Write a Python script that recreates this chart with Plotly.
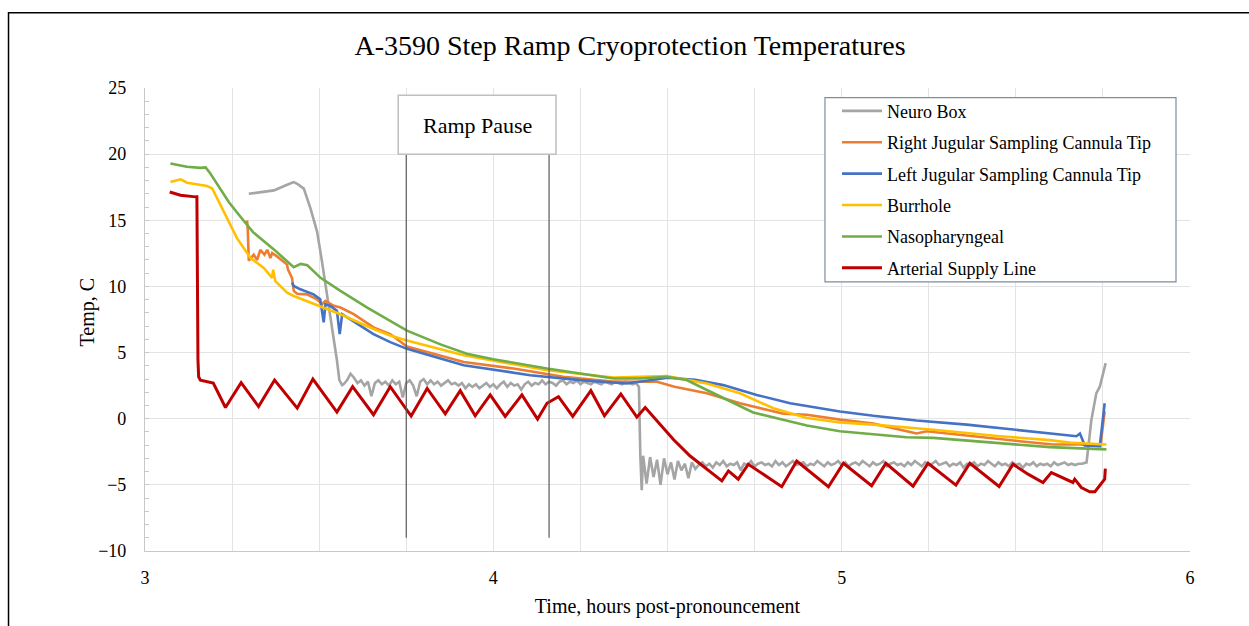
import numpy as np
import plotly.graph_objects as go

# ---------------- data (hours post-pronouncement, temperature C) ----------------
neuro_head_t = [3.298, 3.322, 3.37, 3.408, 3.427, 3.437, 3.456, 3.475, 3.494, 3.508, 3.523, 3.537, 3.551, 3.558, 3.566]
neuro_head_v = [17.0, 17.1, 17.26, 17.69, 17.89, 17.76, 17.39, 15.9, 14.15, 11.9, 9.4, 6.9, 4.42, 2.92, 2.54]

neuro_mid_v = [2.6, 2.9, 3.4, 3.1, 2.7, 2.9, 2.5, 2.8, 1.7, 2.7, 2.9, 2.6, 2.8, 2.5, 2.9, 2.6, 2.8, 1.6, 2.7, 2.9,
               2.5, 1.7, 2.8, 3.0, 2.6, 2.9, 2.6, 2.8, 2.5, 2.7, 2.9, 2.6, 2.7, 2.5, 2.7, 2.3, 2.6, 2.4, 2.6, 2.3,
               2.5, 2.7, 2.4, 2.6, 2.3, 2.6, 2.8, 2.4, 2.7, 2.5, 2.6, 2.2, 2.6, 2.8, 2.5, 2.7, 2.6, 2.9, 2.6, 2.8,
               2.7, 2.5, 2.8, 2.9, 2.6, 2.8, 2.7, 2.9, 2.6, 2.8, 2.7, 2.6, 2.8, 2.7, 2.6, 2.8, 2.7, 2.6, 2.8, 2.7,
               2.6, 2.8, 2.7, 2.6, 2.7]
neuro_mid_start, neuro_mid_end = 3.57, 4.41

neuro_drop_t = [4.418, 4.422, 4.426]
neuro_drop_v = [2.4, -2.8, -5.4]

neuro_low_v = [-2.8, -4.9, -2.9, -4.4, -3.1, -5.0, -3.0, -4.2, -3.3, -4.6, -3.2, -3.9, -3.4, -4.5, -3.3, -3.8,
               -3.5, -3.3, -3.6, -3.4, -3.7, -3.3, -3.5, -3.2, -3.6, -3.4,
               -3.5, -3.3, -3.9, -3.4, -3.5, -3.2, -3.6, -3.4, -3.3, -3.5,
               -3.4, -3.6, -3.2, -3.5, -3.3, -3.6, -3.4, -3.2, -3.5, -3.4,
               -3.3, -3.6, -3.4, -3.5, -3.2, -3.4, -3.6, -3.3, -3.5, -3.4,
               -3.2, -3.5, -3.3, -3.6, -3.4, -3.3, -3.5, -3.2, -3.4, -3.6,
               -3.3, -3.5, -3.4, -3.2, -3.6, -3.4, -3.3, -3.5, -3.4, -3.6,
               -3.3, -3.5, -3.2, -3.4, -3.6, -3.3, -3.5, -3.4, -3.2, -3.5,
               -3.4, -3.3, -3.6, -3.4, -3.5, -3.3, -3.7, -3.4, -3.5, -3.3,
               -3.6, -3.4, -3.5, -3.2, -3.4, -3.6, -3.3, -3.5, -3.4, -3.6,
               -3.3, -3.5, -3.4, -3.7, -3.4, -3.5, -3.3, -3.6, -3.4, -3.5,
               -3.4, -3.6, -3.3, -3.5, -3.4, -3.3, -3.5, -3.4, -3.5, -3.4,
               -3.4, -3.3]
neuro_low_start, neuro_low_end = 4.43, 5.70

neuro_tail_t = [5.703, 5.717, 5.731, 5.741, 5.758]
neuro_tail_v = [-3.3, -0.07, 1.92, 2.42, 4.2]

right_t = [3.293, 3.295, 3.298, 3.312, 3.322, 3.331, 3.343, 3.351, 3.36, 3.365, 3.379, 3.408, 3.41, 3.422, 3.427,
           3.437, 3.465, 3.494, 3.508, 3.518, 3.542, 3.561, 3.599, 3.656, 3.704, 3.752, 3.915, 4.058, 4.201, 4.35,
           4.42, 4.47, 4.52, 4.613, 4.708, 4.804, 4.833, 4.9, 4.995, 5.091, 5.215, 5.244, 5.368, 5.511, 5.607,
           5.683, 5.743, 5.755]
right_v = [15.0, 14.3, 11.95, 12.4, 12.0, 12.77, 12.4, 12.77, 12.15, 12.52, 12.27, 11.65, 11.3, 10.65, 9.66,
           9.45, 9.4, 9.03, 8.65, 8.9, 8.53, 8.4, 7.9, 6.9, 6.4, 5.46, 4.29, 3.79, 3.17, 2.8,
           2.79, 2.79, 2.42, 1.92, 1.17, 0.55, 0.37, 0.3, -0.07, -0.37, -1.12, -0.95, -1.32, -1.7, -1.95,
           -1.95, -2.07, 0.55]

left_t = [3.422, 3.427, 3.446, 3.484, 3.503, 3.513, 3.518, 3.532, 3.551, 3.559, 3.566, 3.609, 3.656, 3.704,
          3.752, 3.915, 4.106, 4.249, 4.383, 4.5, 4.58, 4.66, 4.756, 4.852, 4.995, 5.091, 5.215, 5.359, 5.55,
          5.674, 5.684, 5.698, 5.741, 5.755]
left_v = [10.28, 10.03, 9.78, 9.4, 9.03, 7.28, 8.65, 8.53, 8.16, 6.4, 7.9, 7.16, 6.4, 5.79,
          5.28, 4.04, 3.29, 2.92, 2.66, 3.1, 2.95, 2.54, 1.8, 1.17, 0.55, 0.22, -0.13, -0.45, -0.95,
          -1.32, -1.12, -2.02, -2.07, 1.17]

burr_t = [3.073, 3.102, 3.121, 3.178, 3.193, 3.226, 3.264, 3.303, 3.341, 3.365, 3.368, 3.374, 3.408, 3.427,
          3.465, 3.561, 3.656, 3.704, 3.752, 3.915, 4.154, 4.345, 4.498, 4.613, 4.708, 4.804, 4.9, 4.995,
          5.091, 5.215, 5.263, 5.454, 5.598, 5.664, 5.76]
burr_v = [17.9, 18.1, 17.84, 17.6, 17.4, 15.6, 13.65, 12.15, 11.4, 10.65, 11.27, 10.4, 9.53, 9.28,
          8.9, 7.9, 6.78, 6.29, 5.91, 4.79, 3.67, 3.11, 3.22, 2.66, 1.92, 0.79, 0.05, -0.28,
          -0.45, -0.7, -0.83, -1.32, -1.62, -1.83, -1.95]

naso_t = [3.073, 3.12, 3.159, 3.174, 3.186, 3.21, 3.24, 3.27, 3.31, 3.37, 3.427, 3.447, 3.466, 3.504, 3.561,
          3.638, 3.705, 3.752, 3.85, 3.924, 4.0, 4.154, 4.345, 4.421, 4.498, 4.555, 4.613, 4.689, 4.746,
          4.823, 4.9, 4.995, 5.091, 5.186, 5.263, 5.454, 5.598, 5.76]
naso_v = [19.3, 19.05, 18.96, 19.0, 18.6, 17.6, 16.4, 15.4, 14.1, 12.8, 11.45, 11.7, 11.6, 10.65, 9.66,
          8.4, 7.4, 6.66, 5.6, 4.91, 4.5, 3.79, 3.04, 3.04, 3.17, 2.92, 2.17, 1.17, 0.47,
          -0.03, -0.52, -0.95, -1.2, -1.4, -1.45, -1.82, -2.15, -2.32]

art_t = [3.071, 3.102, 3.145, 3.149, 3.152, 3.154, 3.159, 3.188, 3.196, 3.231, 3.276, 3.326, 3.372, 3.437,
         3.482, 3.551, 3.596, 3.656, 3.704, 3.764, 3.81, 3.862, 3.905, 3.948, 3.991, 4.034, 4.082, 4.127,
         4.154, 4.187, 4.228, 4.28, 4.319, 4.366, 4.412, 4.436, 4.479, 4.517, 4.565, 4.613, 4.656, 4.675,
         4.703, 4.732, 4.828, 4.871, 4.962, 5.005, 5.086, 5.127, 5.205, 5.248, 5.328, 5.368, 5.452, 5.492,
         5.535, 5.578, 5.602, 5.664, 5.669, 5.688, 5.712, 5.727, 5.746, 5.755, 5.757]
art_v = [17.14, 16.9, 16.77, 16.77, 4.5, 3.17, 2.92, 2.79, 2.7, 0.85, 2.72, 0.92, 2.92, 0.8,
         3.0, 0.5, 2.42, 0.3, 2.42, 0.2, 2.29, 0.37, 2.12, 0.22, 1.8, 0.17, 1.8, -0.03,
         1.17, 1.67, 0.17, 2.12, 0.22, 1.87, 0.12, 0.85, -0.45, -1.57, -2.82, -3.82, -4.7, -3.95,
         -4.57, -3.44, -5.14, -3.2, -5.14, -3.37, -5.07, -3.37, -5.1, -3.37, -5.02, -3.37, -5.12, -3.44,
         -4.19, -4.82, -4.07, -4.82, -4.57, -5.2, -5.52, -5.52, -4.82, -4.57, -3.77]

pause_start, pause_end = 3.75, 4.16
pause_label = "Ramp Pause"

series_names = ["Neuro Box", "Right Jugular Sampling Cannula Tip", "Left Jugular Sampling Cannula Tip",
                "Burrhole", "Nasopharyngeal", "Arterial Supply Line"]
series_colors = ["#a5a5a5", "#ed7d31", "#4472c4", "#ffc000", "#70ad47", "#c00000"]

x_ticks = [3, 3.25, 3.5, 3.75, 4, 4.25, 4.5, 4.75, 5, 5.25, 5.5, 5.75, 6]
x_ticklabels = ["3", "", "", "", "4", "", "", "", "5", "", "", "", "6"]

# ---------------- assemble the Neuro Box series ----------------
neuro_t = (neuro_head_t
           + list(np.linspace(neuro_mid_start, neuro_mid_end, len(neuro_mid_v)))
           + neuro_drop_t
           + list(np.linspace(neuro_low_start, neuro_low_end, len(neuro_low_v)))
           + neuro_tail_t)
neuro_v = neuro_head_v + neuro_mid_v + neuro_drop_v + neuro_low_v + neuro_tail_v

xs = [neuro_t, right_t, left_t, burr_t, naso_t, art_t]
ys = [neuro_v, right_v, left_v, burr_v, naso_v, art_v]

FONT = "Liberation Serif, Times New Roman, serif"

fig = go.Figure()
for i, (name, col, x, y) in enumerate(zip(series_names, series_colors, xs, ys)):
    fig.add_trace(go.Scatter(x=x, y=y, mode="lines", name=name, legendgroup=f"g{i}",
                             line=dict(color=col, width=3 if i == 5 else 2.6)))

# Ramp pause markers
for xv in (pause_start, pause_end):
    fig.add_shape(type="line", x0=xv, x1=xv, y0=-9, y1=20, xref="x", yref="y",
                  line=dict(color="#595959", width=1.2))
fig.add_shape(type="rect", x0=3.727, x1=4.18, y0=20.0, y1=24.45, xref="x", yref="y",
              line=dict(color="#bfbfbf", width=1.5), fillcolor="white", layer="above")
fig.add_annotation(x=(3.727 + 4.18) / 2, y=22.15, xref="x", yref="y", text=pause_label,
                   showarrow=False, font=dict(family=FONT, size=22, color="#000000"))

# legend frame
fig.add_shape(type="rect", xref="paper", yref="paper", x0=0.6507, x1=0.9866, y0=0.5812, y1=0.9793,
              line=dict(color="#7f8c9d", width=1.2), fillcolor="white", layer="above")

# outer frame
fig.add_shape(type="rect", xref="paper", yref="paper", x0=-0.1306, x1=1.07, y0=-0.17, y1=1.1624,
              line=dict(color="#000000", width=1.5), fillcolor="rgba(0,0,0,0)", layer="above")

# y axis title
fig.add_annotation(text="Temp, C", xref="paper", yref="paper", x=(88 - 145) / 1045, y=0.515,
                   textangle=-90, showarrow=False, xanchor="center", yanchor="middle",
                   font=dict(family=FONT, size=20, color="#000000"))

fig.update_layout(
    width=1249, height=626,
    margin=dict(l=145, r=59, t=88, b=70),
    paper_bgcolor="white", plot_bgcolor="white",
    font=dict(family=FONT, size=18, color="#000000"),
    title=dict(text="A-3590 Step Ramp Cryoprotection Temperatures", x=630 / 1249, xanchor="center",
               y=1 - 45 / 626, yanchor="middle", font=dict(family=FONT, size=28, color="#000000")),
    showlegend=True,
    legend=dict(x=0.6622, y=0.98996, xanchor="left", yanchor="top", bgcolor="rgba(0,0,0,0)",
                borderwidth=0, font=dict(family=FONT, size=18, color="#000000"),
                tracegroupgap=5, itemwidth=40, traceorder="grouped"),
)
fig.update_xaxes(range=[3, 6], tickmode="array", tickvals=x_ticks, ticktext=x_ticklabels,
                 showgrid=True, gridcolor="#e3e3e3", gridwidth=1.2, showline=True, linecolor="#c8c8c8",
                 linewidth=1.2, zeroline=False, ticks="", tickfont=dict(family=FONT, size=18),
                 ticklabelstandoff=10,
                 title=dict(text="Time, hours post-pronouncement", font=dict(family=FONT, size=20), standoff=12))
fig.update_yaxes(range=[-10, 25], dtick=5, tick0=0, showgrid=True, gridcolor="#e3e3e3", gridwidth=1.2,
                 showline=True, linecolor="#c8c8c8", linewidth=1.2, zeroline=False,
                 ticks="inside", ticklen=4, tickcolor="#c8c8c8",
                 minor=dict(dtick=1, ticks="inside", ticklen=4, tickcolor="#c8c8c8", showgrid=False),
                 tickfont=dict(family=FONT, size=18), ticklabelstandoff=14)

fig.write_html("out.html")
